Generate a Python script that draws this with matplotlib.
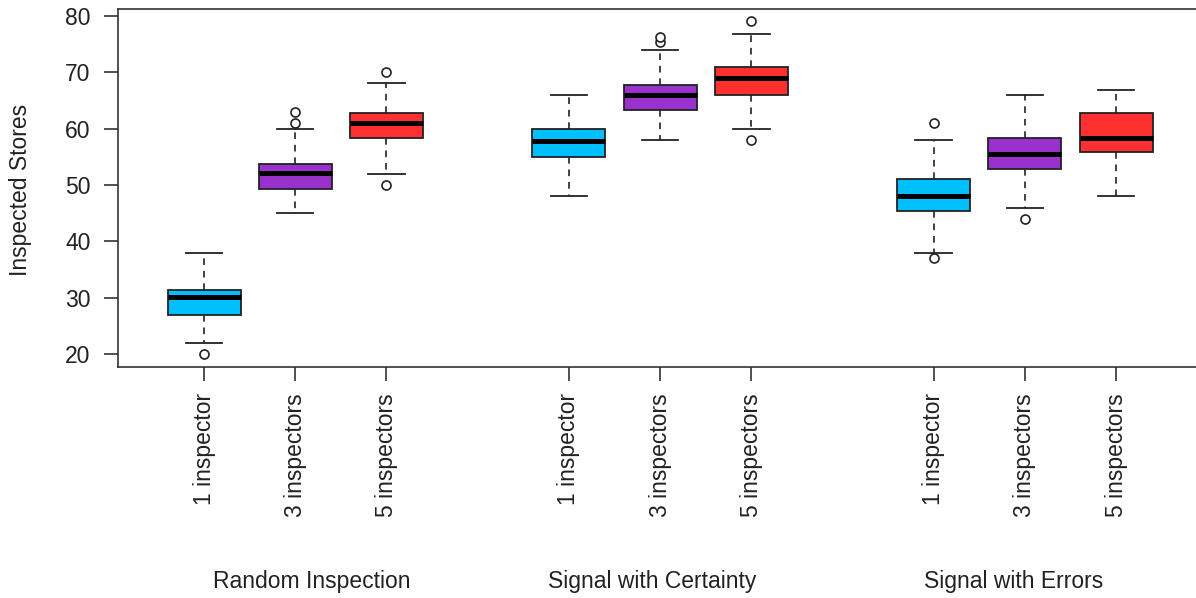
import matplotlib
matplotlib.use("Agg")
import matplotlib.pyplot as plt

# Datos
grupos = ["Random Inspection", "Signal with Certainty", "Signal with Errors"]
etiquetas = ["1 inspector", "3 inspectors", "5 inspectors"] * 3
posiciones = [1, 2, 3, 5, 6, 7, 9, 10, 11]
bigote_inf = [22, 45, 52, 48, 58, 60, 38, 46, 48]
cuartil_1 = [26.9, 49.3, 58.4, 54.9, 63.3, 65.9, 45.4, 52.9, 55.9]
mediana = [30.1, 52.1, 61.0, 57.8, 66.0, 68.9, 48.0, 55.5, 58.4]
cuartil_3 = [31.4, 53.7, 62.7, 60.0, 67.8, 70.9, 51.0, 58.4, 62.8]
bigote_sup = [38, 60, 68, 66, 74, 76.8, 58, 66, 66.8]
atipicos = [[20], [61, 63], [70, 50], [], [75.3, 76.2], [79, 58], [61, 37], [44], []]
colores = ["#00BFFF", "#9932CC", "#FF3030"] * 3

plt.rcParams["font.family"] = ["Liberation Sans", "DejaVu Sans"]

fig = plt.figure(figsize=(11.96, 5.98), dpi=100)
ax = fig.add_axes([0.0989, 0.387, 0.906, 0.598])

# Construimos las estadisticas de cada caja
stats = []
for i in range(len(posiciones)):
    stats.append({"whislo": bigote_inf[i], "q1": cuartil_1[i], "med": mediana[i],
                  "q3": cuartil_3[i], "whishi": bigote_sup[i], "fliers": atipicos[i]})

res = ax.bxp(stats, positions=posiciones, widths=0.8, patch_artist=True,
             boxprops=dict(edgecolor="#222222", linewidth=1.3),
             medianprops=dict(color="black", linewidth=3.6, solid_capstyle="butt"),
             whiskerprops=dict(color="#222222", linewidth=1.2, linestyle=(0, (4, 3.5))),
             capprops=dict(color="#222222", linewidth=1.3),
             capwidths=0.4,
             flierprops=dict(marker="o", markerfacecolor="white", markeredgecolor="#222222",
                             markersize=6.5, markeredgewidth=1.2))
for caja, color in zip(res["boxes"], colores):
    caja.set_facecolor(color)

ax.set_xlim(0.06, 11.94)
ax.set_ylim(17.8, 81.2)
ax.set_yticks([20, 30, 40, 50, 60, 70, 80])
ax.set_xticks(posiciones)
ax.set_xticklabels(etiquetas, rotation=90, va="top")
ax.tick_params(axis="both", labelsize=16.5, length=10, width=1.2, color="#333333", labelcolor="#222222")
ax.tick_params(axis="x", pad=9)
ax.tick_params(axis="y", pad=10)
for lado in ["left", "bottom", "top", "right"]:
    ax.spines[lado].set_color("#333333")
    ax.spines[lado].set_linewidth(1.2)

# Nombres de los grupos debajo de las etiquetas
for nombre, xg in zip(grupos, [2.18, 5.91, 9.88]):
    ax.text(xg, -(582 - 366.7) / (598 * 0.598), nombre, transform=ax.get_xaxis_transform(),
            ha="center", va="center", fontsize=16.5, color="#222222")

fig.text(21 / 1196, 1 - 189.5 / 598, "Inspected Stores", rotation=90, ha="center", va="center",
         fontsize=16.5, color="#222222")

fig.savefig("out.png", dpi=100)
